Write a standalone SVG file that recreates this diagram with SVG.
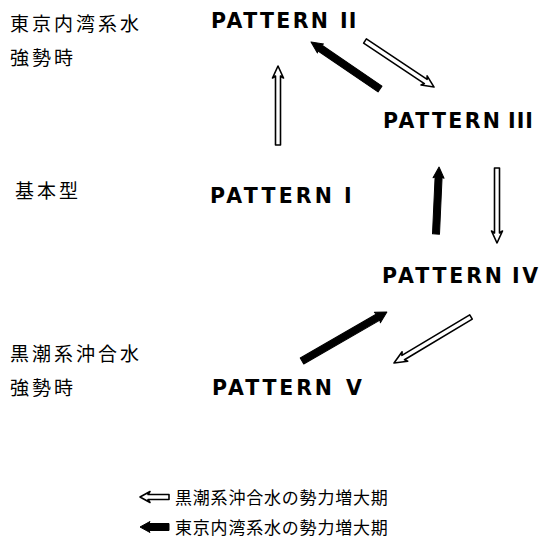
<svg xmlns="http://www.w3.org/2000/svg" width="540" height="546" viewBox="0 0 540 546">
<style>
.pt{font-family:"DejaVu Sans","Liberation Sans",sans-serif;font-weight:bold;font-size:20.5px;fill:#000}
.jp{font-family:"Noto Sans CJK JP","Noto Sans CJK SC",sans-serif;font-size:19px;fill:#000;letter-spacing:3px}
.lg{font-family:"Noto Sans CJK JP","Noto Sans CJK SC",sans-serif;font-size:17px;fill:#000;letter-spacing:0.8px}
.fa{fill:#000;stroke:#000;stroke-width:1;stroke-linejoin:round}
.ha{fill:#fff;stroke:#000;stroke-width:1.6;stroke-linejoin:round}
</style>
<rect width="540" height="546" fill="#fff"/>
<g id="labels">
<text class="jp" x="10" y="31">東京内湾系水</text>
<text class="jp" x="10" y="65">強勢時</text>
<text class="jp" x="15" y="198">基本型</text>
<text class="jp" x="10" y="361">黒潮系沖合水</text>
<text class="jp" x="10" y="395">強勢時</text>
</g>
<g id="pattern2"><text class="pt" x="211" y="28"><tspan textLength="117" lengthAdjust="spacing">PATTERN</tspan><tspan x="340" letter-spacing="1">II</tspan></text></g>
<g id="pattern3"><text class="pt" x="383" y="128"><tspan textLength="117" lengthAdjust="spacing">PATTERN</tspan><tspan x="508" textLength="25" lengthAdjust="spacing">III</tspan></text></g>
<g id="pattern1"><text class="pt" x="210" y="203"><tspan textLength="122" lengthAdjust="spacing">PATTERN</tspan><tspan x="344">I</tspan></text></g>
<g id="pattern4"><text class="pt" x="382" y="283"><tspan textLength="120" lengthAdjust="spacing">PATTERN</tspan><tspan x="512" textLength="26" lengthAdjust="spacing">IV</tspan></text></g>
<g id="pattern5"><text class="pt" x="212" y="395"><tspan textLength="120" lengthAdjust="spacing">PATTERN</tspan><tspan x="346">V</tspan></text></g>
<g id="connectors">
<!-- hollow I -> II -->
<path class="ha" transform="translate(278,145) rotate(-90)" d="M0,-2.5 H69 L67,-5.5 L79,0 L67,5.5 L69,2.5 H0 Z"/>
<!-- hollow II -> III -->
<path class="ha" transform="translate(365,41) rotate(33.7)" d="M0,-2.5 H73 L71,-5.5 L83,0 L71,5.5 L73,2.5 H0 Z"/>
<!-- filled III -> II -->
<path class="fa" transform="translate(380,89) rotate(214.3)" d="M0,-3.5 H73 L72,-5.5 L83.5,0 L72,5.5 L73,3.5 H0 Z"/>
<!-- filled IV -> III -->
<path class="fa" transform="translate(436,234) rotate(-87.4)" d="M0,-3.5 H57 L56,-5.5 L67,0 L56,5.5 L57,3.5 H0 Z"/>
<!-- hollow III -> IV -->
<path class="ha" transform="translate(497,168) rotate(90)" d="M0,-2.5 H65 L63,-5.5 L75,0 L63,5.5 L65,2.5 H0 Z"/>
<!-- filled V -> IV -->
<path class="fa" transform="translate(302,361) rotate(-29.96)" d="M0,-3.5 H88 L87,-6 L98,0 L87,6 L88,3.5 H0 Z"/>
<!-- hollow IV -> V -->
<path class="ha" transform="translate(471,317) rotate(149.1)" d="M0,-2.5 H79 L77,-5.5 L89.7,0 L77,5.5 L79,2.5 H0 Z"/>
</g>
<g id="legend">
<path class="ha" transform="translate(169,497) rotate(180)" d="M0,-2.5 H21 L19,-5.5 L29,0 L19,5.5 L21,2.5 H0 Z"/>
<text class="lg" x="175" y="504">黒潮系沖合水の勢力増大期</text>
<path class="fa" transform="translate(169,527) rotate(180)" d="M0,-3.5 H20 L19,-5.5 L29,0 L19,5.5 L20,3.5 H0 Z"/>
<text class="lg" x="175" y="534">東京内湾系水の勢力増大期</text>
</g>
</svg>
